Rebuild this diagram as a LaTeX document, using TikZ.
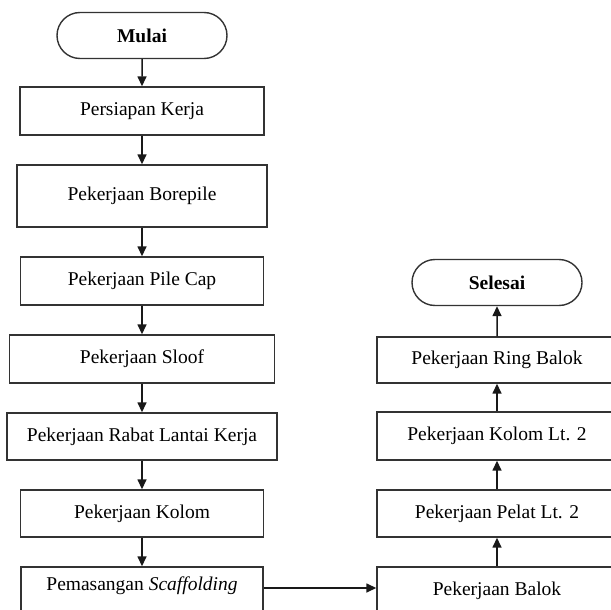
\documentclass[tikz,border=0pt]{standalone}
\usepackage{fontspec}
\setmainfont{Liberation Serif}
\usetikzlibrary{arrows.meta}
\usetikzlibrary{shapes.misc}

\begin{document}
\begin{tikzpicture}[x=1pt,y=-1pt,
  every node/.style={font=\fontsize{19.5}{22}\selectfont},
  box/.style={draw=black!80,line width=1.4pt,minimum height=48pt,inner sep=0pt},
  term/.style={draw=black!80,line width=1.4pt,rounded rectangle,minimum width=170pt,minimum height=46pt,inner sep=0pt,font=\fontsize{19.5}{22}\selectfont\bfseries},
  arr/.style={-{Triangle[length=10pt,width=9pt]},line width=1.5pt,black!90}]
  \useasboundingbox (0,0) rectangle (611,610);
  \clip (0,0) rectangle (611,610);

  % left column
  \node[term] (mulai) at (142,35.5) {Mulai};
  \node[box,minimum width=244pt] (persiapan) at (142,111) {Persiapan Kerja};
  \node[box,minimum width=250pt,minimum height=62pt] (borepile) at (142,196) {Pekerjaan Borepile};
  \node[box,minimum width=243pt] (pilecap) at (142,281) {Pekerjaan Pile Cap};
  \node[box,minimum width=265pt] (sloof) at (142,359) {Pekerjaan Sloof};
  \node[box,minimum width=270pt,minimum height=47pt] (rabat) at (142,436.5) {Pekerjaan Rabat Lantai Kerja};
  \node[box,minimum width=243pt,minimum height=47pt] (kolom) at (142,513.5) {Pekerjaan Kolom};
  \node[box,minimum width=242pt,text depth=15pt] (scaf) at (142,591) {Pemasangan \textit{Scaffolding}};

  % right column
  \node[term] (selesai) at (497,282.5) {Selesai};
  \node[box,minimum width=240pt,minimum height=46pt] (ring) at (497,360) {Pekerjaan Ring Balok};
  \node[box,minimum width=240pt] (kolom2) at (497,436) {Pekerjaan Kolom Lt. 2};
  \node[box,minimum width=240pt,minimum height=47pt] (pelat) at (497,513.5) {Pekerjaan Pelat Lt. 2};
  \node[box,minimum width=240pt] (balok) at (497,591) {Pekerjaan Balok};

  \foreach \a/\b in {mulai/persiapan,persiapan/borepile,borepile/pilecap,pilecap/sloof,sloof/rabat,rabat/kolom,kolom/scaf,balok/pelat,pelat/kolom2,kolom2/ring,ring/selesai}
    \draw[arr] (\a)--(\b);
  \draw[arr] ([yshift=3pt]scaf.east)--([yshift=3pt]balok.west);
\end{tikzpicture}
\end{document}
